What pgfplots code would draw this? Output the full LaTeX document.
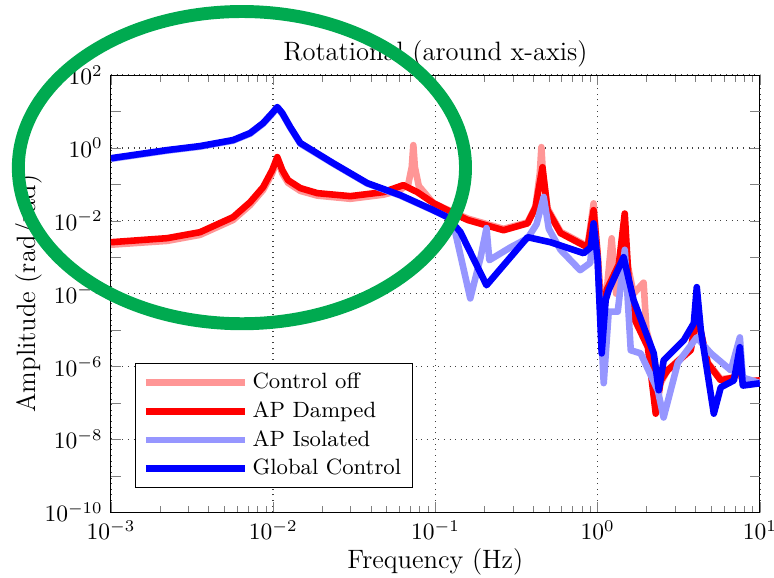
\documentclass[border=0pt]{standalone}
\usepackage{pgfplots}
\pgfplotsset{compat=1.18}
\definecolor{lred}{RGB}{255,150,150}
\definecolor{lblue}{RGB}{150,150,255}
\definecolor{ellgreen}{RGB}{0,170,80}
\begin{document}
\begin{tikzpicture}
\begin{axis}[name=ax, width=276pt, height=186pt, scale only axis,
  xmode=log, ymode=log, xmin=1e-3, xmax=10, ymin=1e-10, ymax=100,
  xtick={1e-3,1e-2,1e-1,1,10},
  ytick={1e-10,1e-8,1e-6,1e-4,1e-2,1,100},
  extra y ticks={1e-9,1e-7,1e-5,1e-3,1e-1,10},
  extra y tick labels={},
  extra y tick style={grid=none},
  grid=major, major grid style={dotted, black!75, semithick},
  tick align=inside,
  title={Rotational (around x-axis)},
  title style={font=\fontsize{11.3}{13.5}\selectfont, yshift=-6pt},
  xlabel={Frequency (Hz)}, ylabel={Amplitude (rad/rad)},
  label style={font=\fontsize{11.3}{13.5}\selectfont},
  ylabel shift=-6pt,
  xlabel shift=-3pt,
  legend style={at={(0.037,0.341)}, anchor=north west, draw=black, fill=white, font=\fontsize{9.4}{11.5}\selectfont, row sep=0pt},
  legend cell align=left,
  every axis plot/.append style={line width=2.8pt, line join=round},
  legend image code/.code={\draw[#1] (0pt,0pt) -- (42pt,0pt);},
]
\addplot[lred] coordinates {
(0.001,2.2e-3) (0.00222,2.8e-3) (0.00354,4.1e-3) (0.00566,0.0105) (0.00721,0.027) (0.00867,0.07) (0.00986,0.2) (0.0106,0.48) (0.01138,0.2) (0.01235,0.11) (0.0147,0.066) (0.0187,0.049) (0.0299,0.040) (0.0478,0.052) (0.06,0.068) (0.068,0.1) (0.0715,0.3) (0.0731,1.19) (0.0747,0.3) (0.079,0.09) (0.0973,0.03) (0.158,0.0115) (0.263,6e-3) (0.37,9e-3) (0.414,0.025) (0.44,0.2) (0.45,1.05) (0.46,0.2) (0.491,0.022) (0.591,5e-3) (0.867,2e-3) (0.944,0.03) (1.0,1.2e-3) (1.06,3e-5) (1.15,2e-4) (1.22,3.3e-3) (1.3,1e-4) (1.469,1.5e-3) (1.667,1e-4) (1.92,2e-4) (2.0,1e-5) (2.28,1e-6) (2.4,3e-7) (2.7,8e-7) (3.75,3e-6) (4.08,2e-5) (4.77,1.3e-6) (5.74,4.5e-7) (6.92,5e-7) (7.2,1.1e-6) (7.85,4e-7) (10,4.17e-7)
};
\addlegendentry{Control off}
\addplot[red] coordinates {
(0.001,2.58e-3) (0.00222,3.33e-3) (0.00354,4.86e-3) (0.00566,0.01256) (0.00721,0.0324) (0.00867,0.0838) (0.00986,0.245) (0.0106,0.558) (0.01138,0.245) (0.01235,0.13) (0.0147,0.0787) (0.0187,0.0573) (0.0299,0.0474) (0.0478,0.0611) (0.0634,0.095) (0.0774,0.0611) (0.0973,0.0305) (0.1186,0.0195) (0.158,0.0105) (0.263,5.5e-3) (0.37,8.5e-3) (0.414,0.0234) (0.457,0.295) (0.491,0.0195) (0.591,4.57e-3) (0.867,1.86e-3) (0.944,0.0195) (1.0,1.12e-3) (1.059,1e-5) (1.137,1.26e-4) (1.35,6.3e-4) (1.469,0.0158) (1.553,2.34e-4) (1.667,2.24e-5) (2.04,3.39e-6) (2.28,5.1e-8) (2.45,4.17e-7) (2.7,7.9e-7) (3.75,2.82e-6) (4.083,2.9e-5) (4.77,1.23e-6) (5.74,4.17e-7) (6.92,5e-7) (7.53,1.07e-6) (7.85,3.7e-7) (10,4.17e-7)
};
\addlegendentry{AP Damped}
\addplot[lblue] coordinates {
(0.001,0.5) (0.00222,0.84) (0.00354,1.08) (0.00566,1.58) (0.00721,2.45) (0.00867,4.6) (0.00986,8.6) (0.0106,12.8) (0.01138,8.6) (0.01274,3.6) (0.0147,1.3) (0.0234,0.37) (0.038,0.105) (0.0608,0.049) (0.0973,0.019) (0.1186,0.0126) (0.13,0.007) (0.164,7.4e-5) (0.19,1e-3) (0.2065,6.3e-3) (0.215,8.3e-4) (0.29,1.86e-3) (0.37,3.3e-3) (0.42,8e-3) (0.465,0.045) (0.5,6e-3) (0.59,1.6e-3) (0.78,4.4e-4) (0.9,7e-4) (0.944,8e-3) (1.0,8e-4) (1.09,3.5e-7) (1.17,3.2e-5) (1.33,3.2e-5) (1.47,1.6e-3) (1.6,2.8e-6) (1.84,2.3e-6) (2.35,2.2e-7) (2.55,4e-8) (3.12,1.26e-6) (4.08,6.3e-6) (4.99,2.3e-6) (6.62,7.9e-7) (7.53,6.3e-6) (7.85,5e-7) (10,3.5e-7)
};
\addlegendentry{AP Isolated}
\addplot[blue] coordinates {
(0.001,0.52) (0.00222,0.87) (0.00354,1.12) (0.00566,1.64) (0.00721,2.55) (0.00867,4.8) (0.00986,9.0) (0.0106,13.2) (0.01138,9.0) (0.01274,3.72) (0.0147,1.36) (0.0234,0.382) (0.038,0.108) (0.0608,0.0505) (0.0973,0.0195) (0.1186,0.01256) (0.1426,0.0049) (0.2065,0.00017) (0.37,0.00355) (0.513,0.00257) (0.82,0.00129) (0.906,0.00186) (0.944,0.0085) (1.0,0.00083) (1.059,2.29e-6) (1.12,6.6e-5) (1.17,1.26e-4) (1.445,1e-3) (1.667,6.6e-5) (2.218,2.29e-6) (2.38,2.24e-7) (2.553,1.48e-6) (3.396,5.25e-6) (3.917,1.55e-5) (4.083,1.51e-4) (4.325,1e-5) (5.2,5.1e-8) (5.74,2.69e-7) (6.92,4.17e-7) (7.53,3.39e-6) (7.85,3e-7) (10,3.47e-7)
};
\addlegendentry{Global Control}
\end{axis}
\draw[line width=5.5pt, ellgreen] ([shift={(55.7pt,146.6pt)}]ax.south west) ellipse [x radius=95.1pt, y radius=66.4pt];
\pgfresetboundingbox
\path[use as bounding box] ([shift={(-47.2pt,-27.7pt)}]ax.south west) rectangle ([shift={(6pt,31.9pt)}]ax.north east);
\end{tikzpicture}
\end{document}
